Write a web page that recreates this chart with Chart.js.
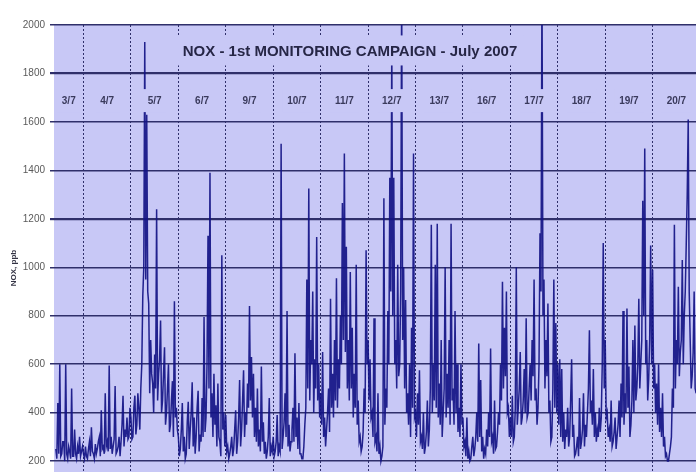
<!DOCTYPE html>
<html>
<head>
<meta charset="utf-8">
<script src="https://cdn.jsdelivr.net/npm/chart.js@4.4.1/dist/chart.umd.min.js"></script>
<style>
  html, body { margin: 0; padding: 0; background: #ffffff; overflow: hidden; }
  #wrap { width: 696px; height: 472px; position: relative; overflow: hidden; }
</style>
</head>
<body>
<div id="wrap"><canvas id="c" width="696" height="472"></canvas></div>
<script>
// ---------- texts ----------
const chartTitle = 'NOX - 1st MONITORING CAMPAIGN - July 2007';
const yAxisTitle = 'NOX, ppb';
const dayLabels = ['3/7', '4/7', '5/7', '6/7', '9/7', '10/7', '11/7', '12/7', '13/7', '16/7', '17/7', '18/7', '19/7', '20/7'];
const yTicks = [200, 400, 600, 800, 1000, 1200, 1400, 1600, 1800, 2000];

// ---------- data: half-hourly NOx (ppb), one array per monitored day ----------
const firstHourDay1 = 10; // campaign starts at 10:00 on 3/7
const stepHours = 0.5;
const nox_0307 = [250, 210, 440, 230, 600, 220, 230, 280, 280, 200, 600, 230, 210, 260, 240, 210, 500, 220, 220, 330, 230, 210, 260, 230, 300, 220, 240, 260];
const nox_0407 = [230, 210, 260, 220, 210, 250, 280, 220, 340, 240, 230, 210, 270, 230, 250, 280, 300, 220, 410, 250, 260, 230, 480, 260, 280, 240, 595, 250, 300, 230, 260, 290, 510, 230, 240, 260, 300, 220, 280, 350, 470, 260, 330, 300, 380, 290, 300, 420];
const nox_0507 = [380, 290, 300, 420, 470, 310, 350, 480, 420, 330, 500, 600, 880, 1000, 1930, 950, 1630, 900, 850, 480, 700, 560, 520, 400, 640, 500, 1240, 450, 560, 620, 780, 400, 450, 560, 670, 350, 400, 500, 600, 320, 350, 450, 530, 300, 860, 380, 420, 330];
const nox_0607 = [300, 220, 250, 330, 440, 240, 300, 210, 230, 360, 445, 250, 330, 400, 525, 260, 380, 230, 300, 420, 490, 240, 310, 280, 460, 300, 795, 320, 380, 600, 1130, 500, 1390, 380, 480, 300, 560, 350, 430, 260, 520, 300, 280, 220, 1050, 330, 400, 260];
const nox_0907 = [390, 240, 260, 210, 230, 260, 300, 220, 250, 330, 410, 230, 280, 380, 535, 260, 330, 450, 575, 300, 400, 350, 520, 420, 840, 450, 630, 380, 560, 300, 420, 280, 500, 260, 330, 240, 590, 280, 360, 230, 280, 210, 240, 300, 460, 220, 260, 240];
const nox_1007 = [300, 220, 240, 280, 390, 220, 260, 240, 1510, 250, 300, 360, 480, 300, 820, 260, 350, 240, 280, 330, 420, 280, 645, 300, 380, 250, 440, 230, 230, 210, 210, 260, 350, 420, 950, 500, 1325, 450, 700, 600, 900, 400, 620, 500, 1125, 450, 600, 380];
const nox_1107 = [480, 350, 650, 300, 380, 260, 330, 400, 500, 320, 870, 420, 560, 380, 700, 450, 955, 420, 620, 500, 800, 600, 1265, 700, 1470, 650, 1085, 500, 700, 450, 980, 500, 750, 380, 560, 420, 1010, 350, 450, 280, 300, 240, 260, 320, 500, 400, 1070, 600];
const nox_1207 = [700, 450, 620, 380, 400, 300, 790, 280, 300, 240, 480, 230, 260, 200, 220, 260, 1285, 350, 500, 420, 820, 600, 1370, 900, 1920, 800, 1370, 600, 700, 500, 1010, 550, 600, 900, 2150, 700, 1000, 500, 865, 400, 480, 350, 600, 300, 750, 420, 1470, 380];
const nox_1307 = [400, 300, 480, 350, 575, 280, 300, 250, 400, 230, 260, 320, 450, 260, 330, 500, 1175, 400, 600, 450, 1010, 420, 1180, 380, 520, 350, 700, 300, 400, 500, 1000, 380, 560, 420, 700, 350, 1180, 450, 500, 350, 820, 400, 600, 320, 420, 300, 600, 350];
const nox_1607 = [380, 260, 280, 220, 380, 210, 240, 200, 210, 260, 300, 220, 250, 300, 400, 280, 685, 300, 535, 240, 300, 210, 250, 230, 330, 260, 400, 300, 665, 280, 300, 230, 450, 250, 260, 320, 400, 350, 600, 450, 940, 500, 750, 550, 900, 400, 420, 300];
const nox_1707 = [380, 300, 470, 280, 300, 420, 1000, 350, 420, 500, 650, 350, 380, 450, 580, 400, 790, 380, 400, 500, 600, 450, 700, 550, 950, 450, 500, 350, 420, 600, 1140, 900, 2200, 800, 950, 500, 700, 550, 850, 400, 450, 280, 300, 500, 950, 420, 770, 400];
const nox_1807 = [600, 350, 620, 300, 580, 280, 400, 250, 330, 300, 420, 260, 300, 450, 620, 300, 350, 220, 230, 260, 300, 220, 460, 250, 280, 330, 480, 260, 350, 300, 400, 500, 740, 400, 450, 350, 580, 300, 400, 280, 330, 300, 420, 320, 380, 600, 1100, 500];
const nox_1907 = [700, 380, 400, 300, 330, 280, 450, 260, 280, 320, 380, 250, 300, 350, 450, 300, 520, 380, 820, 350, 480, 400, 830, 420, 590, 300, 350, 450, 700, 400, 760, 450, 500, 600, 870, 500, 600, 700, 1275, 800, 1490, 600, 700, 450, 540, 700, 1090, 600];
const nox_2007 = [990, 500, 600, 400, 520, 350, 600, 320, 420, 300, 480, 260, 300, 220, 230, 200, 200, 230, 260, 300, 500, 420, 1175, 500, 700, 600, 920, 550, 650, 700, 1030, 600, 800, 900, 1095, 1300, 1610, 900, 700, 500, 550, 650, 900, 500, 480, 420, 400, 380];

const dailySeries = [nox_0307, nox_0407, nox_0507, nox_0607, nox_0907, nox_1007, nox_1107,
                     nox_1207, nox_1307, nox_1607, nox_1707, nox_1807, nox_1907, nox_2007];

// ---------- build points (x = day index + hour/24) ----------
const points = [];
dailySeries.forEach((arr, d) => {
  const h0 = d === 0 ? firstHourDay1 : 0;
  arr.forEach((v, i) => points.push({ x: d + (h0 + i * stepHours) / 24, y: v }));
});

// ---------- styling ----------
const PLOT_BG = '#c8c8f6';
const GRID = '#2f2f6a';
const LINE = 'rgba(18, 18, 132, 0.92)';
const X_MIN = 0.378, X_MAX = 13.914;
const Y_MIN = 155, Y_MAX = 2000;

const decor = {
  id: 'decor',
  beforeDraw(chart) {
    const { ctx, chartArea: a } = chart;
    ctx.save();
    ctx.fillStyle = PLOT_BG;
    ctx.fillRect(a.left, a.top, a.right - a.left, a.bottom - a.top);
    ctx.restore();
  },
  afterDatasetsDraw(chart) {
    const { ctx, scales: { x, y } } = chart;
    ctx.save();
    // title with its own box
    ctx.font = 'bold 15px "Liberation Sans", Arial, sans-serif';
    const ty = y.getPixelForValue(1895);
    const tcx = chart.width / 2 + 2;
    const tw = ctx.measureText(chartTitle).width;
    ctx.fillStyle = PLOT_BG;
    ctx.fillRect(tcx - tw / 2 - 6, ty - 15, tw + 12, 30);
    ctx.fillStyle = '#262646';
    ctx.textAlign = 'center';
    ctx.textBaseline = 'middle';
    ctx.fillText(chartTitle, tcx, ty + 1);

    // day labels with boxes
    ctx.font = 'bold 10px "Liberation Sans", Arial, sans-serif';
    const ly = y.getPixelForValue(1690);
    dayLabels.forEach((lab, d) => {
      const lo = Math.max(d, X_MIN), hi = Math.min(d + 1, X_MAX + 1);
      const cx = x.getPixelForValue(d === 0 ? (lo + hi) / 2 : d + 0.5);
      const w = ctx.measureText(lab).width;
      ctx.fillStyle = PLOT_BG;
      ctx.fillRect(cx - w / 2 - 5, ly - 11, w + 10, 23);
      ctx.fillStyle = '#3a3a5c';
      ctx.fillText(lab, cx, ly + 1);
    });

    // y-axis title
    ctx.font = 'bold 8px "Liberation Sans", Arial, sans-serif';
    ctx.fillStyle = '#333344';
    ctx.translate(14, 268);
    ctx.rotate(-Math.PI / 2);
    ctx.fillText(yAxisTitle, 0, 0);
    ctx.restore();
  }
};

new Chart(document.getElementById('c'), {
  type: 'line',
  data: {
    datasets: [{
      data: points,
      borderColor: LINE,
      borderWidth: 1.5,
      pointRadius: 0,
      tension: 0,
      fill: false
    }]
  },
  options: {
    responsive: false,
    animation: false,
    layout: { padding: { top: 25, left: 0, right: 0, bottom: 0 } },
    plugins: { legend: { display: false }, tooltip: { enabled: false }, title: { display: false } },
    scales: {
      x: {
        type: 'linear',
        min: X_MIN,
        max: X_MAX,
        afterBuildTicks: s => { s.ticks = dayLabels.slice(1).map((_, i) => ({ value: i + 1 })); },
        afterFit: s => { s.height = 0; s.paddingLeft = 0; s.paddingRight = 0; s.paddingTop = 0; s.paddingBottom = 0; },
        ticks: { display: false },
        grid: { color: GRID, lineWidth: 1, drawTicks: false },
        border: { display: false, dash: [2, 2] }
      },
      y: {
        min: Y_MIN,
        max: Y_MAX,
        afterBuildTicks: s => { s.ticks = yTicks.map(v => ({ value: v })); },
        afterFit: s => { s.width = 54; s.paddingTop = 0; s.paddingBottom = 0; },
        ticks: {
          color: '#5a5a5a',
          padding: 5,
          callback: v => String(v),
          font: { family: '"Liberation Sans Narrow", "Arial Narrow", "Liberation Sans", Arial, sans-serif', size: 10 }
        },
        grid: {
          color: GRID,
          lineWidth: c => (c.tick && (c.tick.value === 1800 || c.tick.value === 1200)) ? 2.2 : 1.5,
          tickLength: 4
        },
        border: { display: false }
      }
    }
  },
  plugins: [decor]
});
</script>
</body>
</html>
